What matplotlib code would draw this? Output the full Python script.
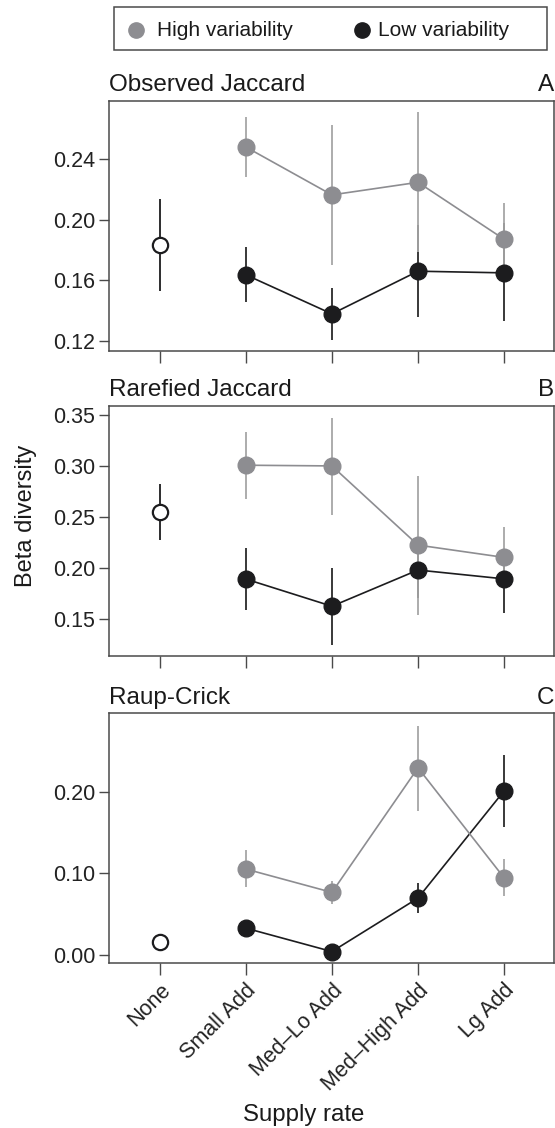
import numpy as np
import matplotlib
matplotlib.use("Agg")
import matplotlib.pyplot as plt
from matplotlib.lines import Line2D
from matplotlib.patches import Rectangle

plt.rcParams['font.family'] = ['Liberation Sans', 'DejaVu Sans']

categories = ['None', 'Small Add', 'Med–Lo Add', 'Med–High Add', 'Lg Add']
titles = ['Observed Jaccard', 'Rarefied Jaccard', 'Raup-Crick']
letters = ['A', 'B', 'C']
legend_labels = ['High variability', 'Low variability']

# control (None) treatment: mean, lower, upper
none_mean = [0.1835, 0.2543, 0.0156]
none_low = [0.1531, 0.2268, 0.0156]
none_up = [0.2137, 0.2822, 0.0156]

# high variability
high_mean = [[0.2481, 0.2165, 0.2248, 0.1872],
             [0.3007, 0.3000, 0.2222, 0.2101],
             [0.1049, 0.0763, 0.2291, 0.0942]]
high_low = [[0.2285, 0.1703, 0.1788, 0.1630],
            [0.2678, 0.2520, 0.1539, 0.1800],
            [0.0823, 0.0620, 0.1767, 0.0713]]
high_up = [[0.2678, 0.2627, 0.2711, 0.2110],
           [0.3335, 0.3470, 0.2905, 0.2402],
           [0.1282, 0.0906, 0.2810, 0.1171]]

# low variability
low_mean = [[0.1637, 0.1379, 0.1661, 0.1650],
            [0.1888, 0.1621, 0.1977, 0.1890],
            [0.0324, 0.0037, 0.0693, 0.2008]]
low_low = [[0.1459, 0.1209, 0.1359, 0.1329],
           [0.1585, 0.1244, 0.1700, 0.1550],
           [0.0270, 0.0015, 0.0509, 0.1571]]
low_up = [[0.1822, 0.1551, 0.1969, 0.1980],
          [0.2197, 0.2000, 0.2250, 0.2150],
          [0.0380, 0.0060, 0.0877, 0.2451]]

yticks = [[0.12, 0.16, 0.20, 0.24],
          [0.15, 0.20, 0.25, 0.30, 0.35],
          [0.00, 0.10, 0.20]]
ylims = [(0.1134, 0.2785), (0.1132, 0.3589), (-0.0107, 0.296)]

gray = '#8d8d91'
gray_err = '#a6a6a6'
black = '#1c1c1e'
spine = '#4a4a4a'
txt = '#1a1a1a'
W, H = 555, 1128


def draw_panel(ax, i):
	"""
	One beta diversity panel
	"""
	x = np.arange(2, 6)
	hm = np.array(high_mean[i])
	lm = np.array(low_mean[i])
	ax.errorbar(x, lm, yerr=[lm - np.array(low_low[i]), np.array(low_up[i]) - lm],
		fmt='none', ecolor='#2a2a2a', elinewidth=1.3, zorder=2)
	ax.errorbar(x, hm, yerr=[hm - np.array(high_low[i]), np.array(high_up[i]) - hm],
		fmt='none', ecolor=gray_err, elinewidth=1.3, zorder=2.5)
	ax.plot(x, lm, '-', color=black, lw=1.2, zorder=3)
	ax.plot(x, hm, '-', color=gray, lw=1.2, zorder=3)
	ax.plot(x, lm, 'o', color=black, ms=12, mec=black, zorder=4)
	ax.plot(x, hm, 'o', color=gray, ms=12, mec=gray, zorder=4)

	nm = none_mean[i]
	if none_up[i] > none_low[i]:
		ax.errorbar([1], [nm], yerr=[[nm - none_low[i]], [none_up[i] - nm]],
			fmt='none', ecolor=black, elinewidth=1.3, zorder=2)
	ax.plot([1], [nm], 'o', mfc='white', mec=black, mew=1.6, ms=11, zorder=4)

	ax.set_xlim(0.41, 5.58)
	ax.set_ylim(ylims[i])
	ax.set_yticks(yticks[i])
	ax.set_yticklabels(['%.2f' % v for v in yticks[i]])
	ax.set_xticks(np.arange(1, 6))
	for s in ax.spines.values():
		s.set_color(spine)
		s.set_linewidth(1.1)
	ax.tick_params(axis='y', length=7, width=1, color=spine, labelsize=15.5, pad=3,
		labelcolor='#222222')
	ax.tick_params(axis='x', length=8.5, width=1, color=spine, labelsize=15.5,
		labelcolor='#222222')
	ax.set_title(titles[i], loc='left', fontsize=17.5, pad=7, color=txt)
	ax.set_title(letters[i], loc='right', fontsize=17.5, pad=7, color=txt)


fig = plt.figure(figsize=(W / 100, H / 100), dpi=100)
tops = [101, 406, 713.3]
for i in range(3):
	bottom = tops[i] + 250
	ax = fig.add_axes([109 / W, 1 - bottom / H, 445 / W, 250 / H])
	draw_panel(ax, i)
	if i < 2:
		ax.set_xticklabels([])
	else:
		ax.set_xticklabels(categories, rotation=45, ha='right', rotation_mode='anchor')

fig.text(26 / W, 1 - 516 / H, 'Beta diversity', rotation=90, ha='center', va='center',
	fontsize=17, color=txt)
fig.text(303.5 / W, 1 - 1121 / H, 'Supply rate', ha='center', va='baseline',
	fontsize=17.3, color=txt)

#legenda feita a mao
fig.patches.append(Rectangle((114 / W, 1 - 50 / H), 433 / W, 43 / H, transform=fig.transFigure,
	facecolor='white', edgecolor=spine, linewidth=1.1))
leg_x = [136, 362]
leg_tx = [157, 378]
leg_c = [gray, black]
for k in range(2):
	fig.lines.append(Line2D([leg_x[k] / W], [1 - 30 / H], ls='none', marker='o', ms=11,
		color=leg_c[k], transform=fig.transFigure))
	fig.text(leg_tx[k] / W, 1 - 30 / H, legend_labels[k], ha='left', va='center',
		fontsize=15, color=txt)

fig.savefig('out.png', dpi=100)
